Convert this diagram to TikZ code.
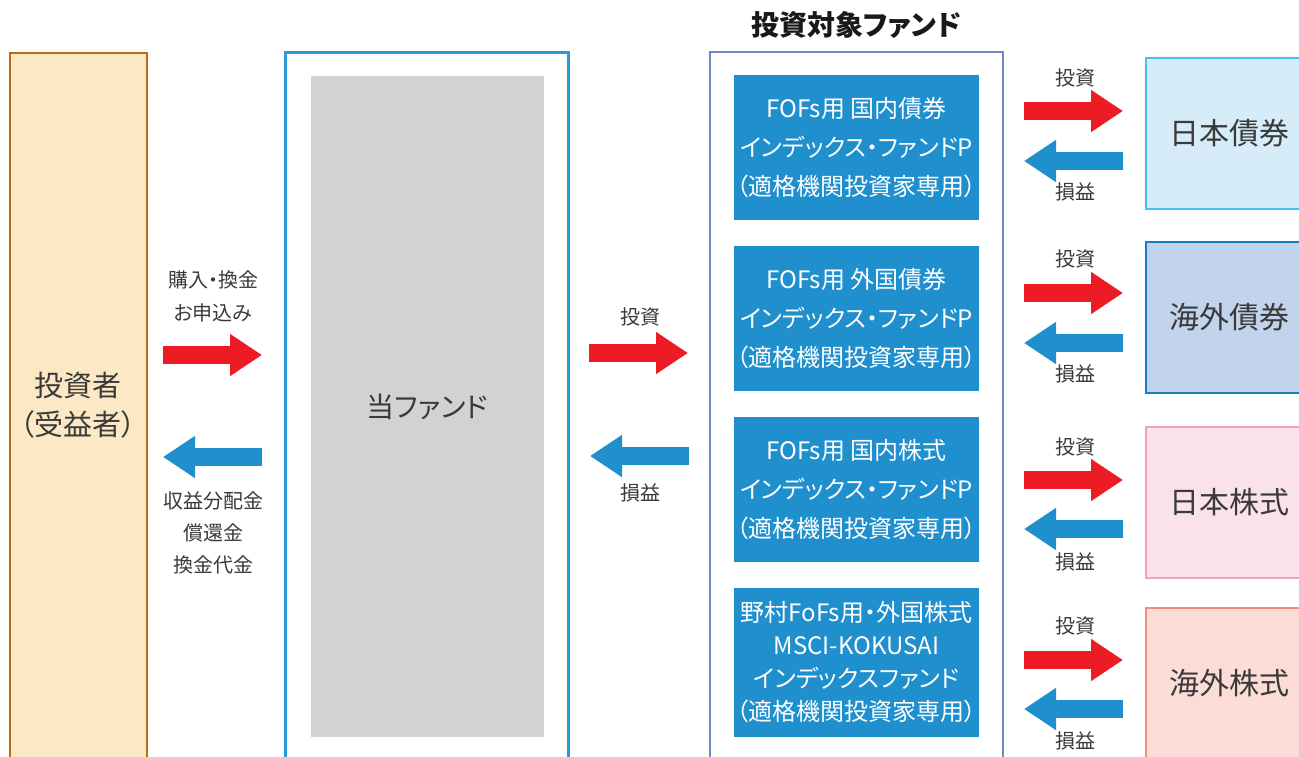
\documentclass[tikz,border=0pt]{standalone}
\usepackage{fontspec}
\setmainfont{Noto Sans CJK JP}[RawFeature=+palt]
\usetikzlibrary{arrows.meta}
\definecolor{invfill}{HTML}{FDE8C5}
\definecolor{invline}{HTML}{B36D1B}
\definecolor{fundline}{HTML}{2A9BD8}
\definecolor{tgtline}{HTML}{6D89C7}
\definecolor{grayfill}{HTML}{D1D2D4}
\definecolor{arrred}{HTML}{ED1C24}
\definecolor{arrblue}{HTML}{1F8FCE}
\definecolor{txtgray}{HTML}{3A3A3A}
\definecolor{jbfill}{HTML}{D6ECF9}
\definecolor{jbline}{HTML}{45C3EE}
\definecolor{fbfill}{HTML}{C1D4EC}
\definecolor{fbline}{HTML}{1B7DC1}
\definecolor{jsfill}{HTML}{FAE2ED}
\definecolor{jsline}{HTML}{F4A0C6}
\definecolor{fsfill}{HTML}{FBDCD6}
\definecolor{fsline}{HTML}{F28B82}
\begin{document}
\begin{tikzpicture}[x=1pt,y=-1pt]
			\tikzstyle{box} = [draw, line width=2.5pt, rectangle, inner sep=0]
			\tikzstyle{sub} = [rectangle, fill=arrblue, text=white, inner sep=0, minimum width=245pt, align=center]
			\tikzstyle{asset} = [box, minimum width=166pt, minimum height=151pt, text=txtgray, font=\fontsize{30}{34}\selectfont]
			\tikzstyle{lbl} = [text=txtgray, align=center, font=\fontsize{20}{33}\selectfont]
			\tikzstyle{inv} = [line width=18pt, arrred, -{Triangle[length=32pt,width=40pt]}]
			\tikzstyle{ret} = [line width=18pt, arrblue, -{Triangle[length=32pt,width=40pt]}]
			\clip (0,0) rectangle (1299,756);

			% investor
			\node [box, draw=invline, fill=invfill, minimum width=137pt, minimum height=722pt] (investor) at (78.5,414) {};
			\node [text=txtgray, align=center, font=\fontsize{29}{39}\selectfont] (investortxt) at (78,405) {投資者\\（受益者）};

			% this fund
			\node [box, draw=fundline, line width=3pt, fill=white, minimum width=283pt, minimum height=723pt] (fund) at (426.5,413.5) {};
			\node [rectangle, fill=grayfill, minimum width=233pt, minimum height=661pt, text=txtgray, font=\fontsize{28}{30}\selectfont] (fundin) at (427.5,406.5) {当ファンド};

			% target funds
			\node [box, draw=tgtline, line width=2pt, fill=white, minimum width=293pt, minimum height=723pt] (target) at (856.5,413.5) {};
			\node [text=black!90, font=\fontsize{28}{30}\selectfont\bfseries] (targettitle) at (856,25) {投資対象ファンド};
			\node [sub, minimum height=145pt, font=\fontsize{24}{39}\selectfont] (sub1) at (856.5,147.5) {FOFs用 国内債券\\インデックス・ファンドP\\（適格機関投資家専用）};
			\node [sub, minimum height=145pt, font=\fontsize{24}{39}\selectfont] (sub2) at (856.5,318.5) {FOFs用 外国債券\\インデックス・ファンドP\\（適格機関投資家専用）};
			\node [sub, minimum height=145pt, font=\fontsize{24}{39}\selectfont] (sub3) at (856.5,489.5) {FOFs用 国内株式\\インデックス・ファンドP\\（適格機関投資家専用）};
			\node [sub, minimum height=149pt, font=\fontsize{24}{33}\selectfont] (sub4) at (856.5,662.5) {野村FoFs用・外国株式\\MSCI-KOKUSAI\\インデックスファンド\\（適格機関投資家専用）};

			% assets
			\node [asset, draw=jbline, fill=jbfill] (jbond) at (1229,133.5) {日本債券};
			\node [asset, draw=fbline, fill=fbfill] (fbond) at (1229,317.5) {海外債券};
			\node [asset, draw=jsline, fill=jsfill] (jstock) at (1229,502.5) {日本株式};
			\node [asset, draw=fsline, fill=fsfill] (fstock) at (1229,683.5) {海外株式};

			% arrows investor <-> fund
			\coordinate (a1) at (163,355);
			\coordinate (a2) at (262,355);
			\coordinate (b1) at (262,457);
			\coordinate (b2) at (163,457);
			\draw [inv] (a1) -- (a2);
			\draw [ret] (b1) -- (b2);
			\node [lbl] (buy) at (213,296) {購入・換金\\お申込み};
			\node [lbl, font=\fontsize{20}{32}\selectfont] (pay) at (213,533) {収益分配金\\償還金\\換金代金};

			% arrows fund <-> target
			\coordinate (c1) at (589,353);
			\coordinate (c2) at (688,353);
			\coordinate (d1) at (689,456);
			\coordinate (d2) at (590,456);
			\draw [inv] (c1) -- (c2);
			\draw [ret] (d1) -- (d2);
			\node [lbl] (inv0) at (640,317) {投資};
			\node [lbl] (pl0) at (640,493) {損益};

			% arrows target <-> assets
			\coordinate (e1) at (1024,111);
			\coordinate (e2) at (1123,111);
			\coordinate (f1) at (1123,161);
			\coordinate (f2) at (1024,161);
			\draw [inv] (e1) -- (e2);
			\draw [ret] (f1) -- (f2);
			\node [lbl] (inv1) at (1075,78) {投資};
			\node [lbl] (pl1) at (1075,192) {損益};

			\coordinate (g1) at (1024,293);
			\coordinate (g2) at (1123,293);
			\coordinate (h1) at (1123,343);
			\coordinate (h2) at (1024,343);
			\draw [inv] (g1) -- (g2);
			\draw [ret] (h1) -- (h2);
			\node [lbl] (inv2) at (1075,259) {投資};
			\node [lbl] (pl2) at (1075,374) {損益};

			\coordinate (i1) at (1024,480);
			\coordinate (i2) at (1123,480);
			\coordinate (j1) at (1123,529);
			\coordinate (j2) at (1024,529);
			\draw [inv] (i1) -- (i2);
			\draw [ret] (j1) -- (j2);
			\node [lbl] (inv3) at (1075,447) {投資};
			\node [lbl] (pl3) at (1075,562) {損益};

			\coordinate (k1) at (1024,660);
			\coordinate (k2) at (1123,660);
			\coordinate (l1) at (1123,709);
			\coordinate (l2) at (1024,709);
			\draw [inv] (k1) -- (k2);
			\draw [ret] (l1) -- (l2);
			\node [lbl] (inv4) at (1075,626) {投資};
			\node [lbl] (pl4) at (1075,741) {損益};

		\end{tikzpicture}
\end{document}
